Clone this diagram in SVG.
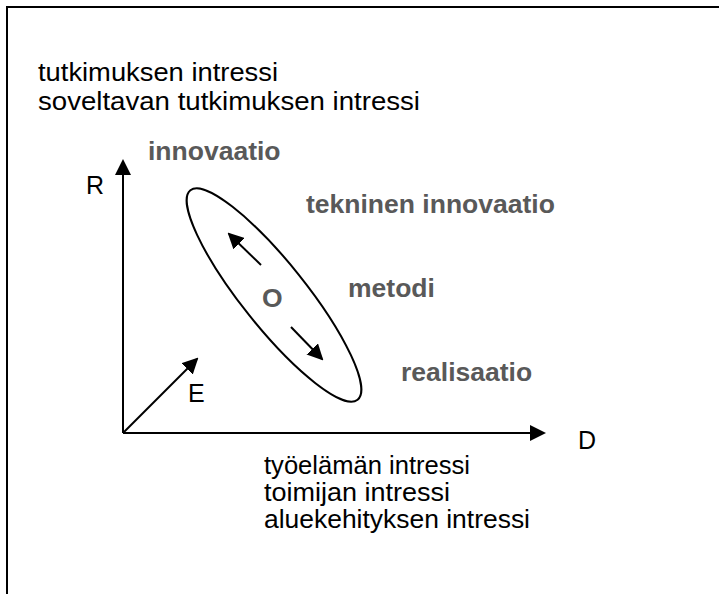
<svg xmlns="http://www.w3.org/2000/svg" width="719" height="594" viewBox="0 0 719 594">
<style>
.t{font-family:"Liberation Sans",Arial,sans-serif;font-size:25px;fill:#000}
.tl{font-family:"Liberation Sans",Arial,sans-serif;font-size:25px;fill:#000}
.g{font-family:"Liberation Sans",Arial,sans-serif;font-size:26.5px;font-weight:bold;fill:#595959}
.ln{stroke:#000;stroke-width:2;fill:none}
</style>
<defs>
<marker id="ah" markerWidth="16" markerHeight="16" refX="14" refY="8" orient="auto" markerUnits="userSpaceOnUse">
<path d="M0,0 L16,8 L0,16 z" fill="#000"/>
</marker>
</defs>
<rect width="719" height="594" fill="#fff"/>
<g id="frame"><path class="ln" d="M7,594 V7 H719"/></g>
<g id="top-text">
<text class="tl" x="38" y="81" textLength="240" lengthAdjust="spacingAndGlyphs">tutkimuksen intressi</text>
<text class="tl" x="38" y="110" textLength="382" lengthAdjust="spacingAndGlyphs">soveltavan tutkimuksen intressi</text>
</g>
<g id="connectors">
<line class="ln" x1="123" y1="433" x2="123" y2="161" marker-end="url(#ah)"/>
<line class="ln" x1="123" y1="433" x2="544" y2="433" marker-end="url(#ah)"/>
<line class="ln" x1="123" y1="433" x2="197" y2="359" marker-end="url(#ah)"/>
<line class="ln" x1="261" y1="265" x2="229" y2="234" marker-end="url(#ah)"/>
<line class="ln" x1="291" y1="327" x2="322" y2="359" marker-end="url(#ah)"/>
</g>
<g id="ellipse"><ellipse class="ln" cx="274" cy="295" rx="134" ry="32" transform="rotate(51.4 274 295)"/></g>
<g id="label-R"><text class="t" x="86" y="194">R</text></g>
<g id="label-D"><text class="t" x="578" y="449">D</text></g>
<g id="label-E"><text class="t" x="188" y="402">E</text></g>
<g id="label-O"><text class="g" x="262" y="307">O</text></g>
<g id="innovaatio"><text class="g" x="148" y="160">innovaatio</text></g>
<g id="tekninen"><text class="g" x="306" y="213">tekninen innovaatio</text></g>
<g id="metodi"><text class="g" x="348" y="297">metodi</text></g>
<g id="realisaatio"><text class="g" x="401" y="381">realisaatio</text></g>
<g id="bottom-text">
<text class="tl" x="264" y="474" textLength="206" lengthAdjust="spacingAndGlyphs">työelämän intressi</text>
<text class="tl" x="264" y="501" textLength="186" lengthAdjust="spacingAndGlyphs">toimijan intressi</text>
<text class="tl" x="264" y="528" textLength="266" lengthAdjust="spacingAndGlyphs">aluekehityksen intressi</text>
</g>
</svg>
